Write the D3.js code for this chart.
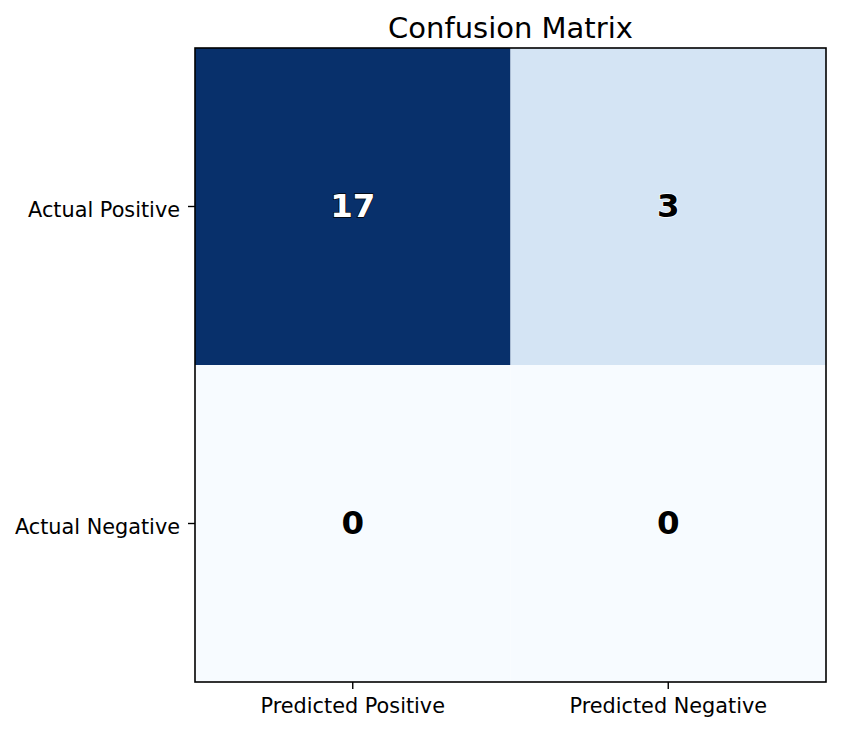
<!DOCTYPE html>
<html><head><meta charset="utf-8">
<script src="https://cdn.jsdelivr.net/npm/d3@7"></script>
<style>body{margin:0;background:#fff}svg{font-family:"DejaVu Sans",sans-serif}</style>
</head><body><svg id="c" width="842" height="733"></svg>
<script>
const actualLabels = ["Actual Positive", "Actual Negative"];
const predictedLabels = ["Predicted Positive", "Predicted Negative"];
const matrix = [[17, 3], [0, 0]];
const title = "Confusion Matrix";

const svg = d3.select("#c");
const m = {left:195, top:48, right:16, bottom:51};
const W = 842 - m.left - m.right, H = 733 - m.top - m.bottom;
const g = svg.append("g").attr("transform", `translate(${m.left},${m.top})`);
const x = d3.scaleBand().domain(predictedLabels).range([0, W]);
const y = d3.scaleBand().domain(actualLabels).range([0, H]);
const maxV = d3.max(matrix.flat());
const color = v => d3.interpolateBlues(v / maxV);

const cells = [];
matrix.forEach((row, i) => row.forEach((v, j) => cells.push({r: actualLabels[i], c: predictedLabels[j], v})));

g.selectAll("rect.cell").data(cells).join("rect").attr("class","cell")
  .attr("x", d => x(d.c)).attr("y", d => y(d.r))
  .attr("width", x.bandwidth()).attr("height", y.bandwidth())
  .attr("fill", d => color(d.v));

g.selectAll("text.val").data(cells).join("text").attr("class","val")
  .attr("x", d => x(d.c) + x.bandwidth()/2).attr("y", d => y(d.r) + y.bandwidth()/2 - 1)
  .attr("text-anchor","middle").attr("dominant-baseline","central")
  .attr("font-size", 32.5).attr("font-weight","bold")
  .attr("fill", d => d.v > maxV/2 ? "#fff" : "#000")
  .attr("stroke", d => d.v > maxV/2 ? "#000" : "#fff").attr("stroke-width", 1.4)
  .attr("paint-order","stroke")
  .text(d => d.v);

const xa = g.append("g").attr("transform", `translate(0,${H})`)
  .call(d3.axisBottom(x).tickSize(7).tickPadding(9));
const ya = g.append("g").call(d3.axisLeft(y).tickSize(7).tickPadding(8));
[xa, ya].forEach(a => {
  a.select(".domain").remove();
  a.selectAll("text").attr("font-size", 20.8).attr("fill","#000").attr("font-family","DejaVu Sans");
  a.selectAll("line").attr("stroke","#000").attr("stroke-width",1.4);
});
ya.selectAll("text").attr("dy", "0.5em");
g.append("rect").attr("width", W).attr("height", H).attr("fill","none").attr("stroke","#000").attr("stroke-width",1.6);

svg.append("text").attr("x", m.left + W/2).attr("y", 38).attr("text-anchor","middle")
  .attr("font-size", 29).attr("fill","#000").text(title);
</script></body></html>
